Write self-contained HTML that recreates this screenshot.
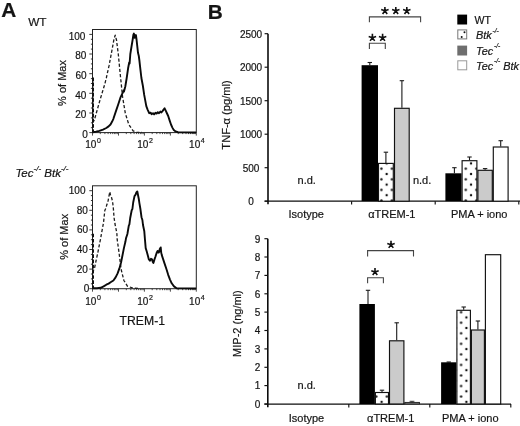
<!DOCTYPE html>
<html><head><meta charset="utf-8"><title>Figure</title>
<style>
html,body{margin:0;padding:0;background:#fff;}
body{width:520px;height:426px;overflow:hidden;font-family:'Liberation Sans', sans-serif;}
svg{display:block;font-family:"Liberation Sans",sans-serif;fill:#151515;filter:grayscale(1);}
svg text{font-family:"Liberation Sans",sans-serif;stroke:#151515;stroke-width:0.2px;}
</style></head><body>
<svg width="520" height="426" viewBox="0 0 520 426">
<rect x="0" y="0" width="520" height="426" fill="#fff"/>
<rect x="92.5" y="29.5" width="103.80000000000001" height="103.1" fill="none" stroke="#222" stroke-width="1"/>
<line x1="89.3" y1="132.6" x2="92.5" y2="132.6" stroke="#222" stroke-width="0.9"/>
<line x1="90.9" y1="127.7" x2="92.5" y2="127.7" stroke="#222" stroke-width="0.9"/>
<line x1="90.9" y1="122.8" x2="92.5" y2="122.8" stroke="#222" stroke-width="0.9"/>
<line x1="90.9" y1="117.9" x2="92.5" y2="117.9" stroke="#222" stroke-width="0.9"/>
<line x1="89.3" y1="113.0" x2="92.5" y2="113.0" stroke="#222" stroke-width="0.9"/>
<line x1="90.9" y1="108.0" x2="92.5" y2="108.0" stroke="#222" stroke-width="0.9"/>
<line x1="90.9" y1="103.1" x2="92.5" y2="103.1" stroke="#222" stroke-width="0.9"/>
<line x1="90.9" y1="98.2" x2="92.5" y2="98.2" stroke="#222" stroke-width="0.9"/>
<line x1="89.3" y1="93.3" x2="92.5" y2="93.3" stroke="#222" stroke-width="0.9"/>
<line x1="90.9" y1="88.4" x2="92.5" y2="88.4" stroke="#222" stroke-width="0.9"/>
<line x1="90.9" y1="83.5" x2="92.5" y2="83.5" stroke="#222" stroke-width="0.9"/>
<line x1="90.9" y1="78.6" x2="92.5" y2="78.6" stroke="#222" stroke-width="0.9"/>
<line x1="89.3" y1="73.7" x2="92.5" y2="73.7" stroke="#222" stroke-width="0.9"/>
<line x1="90.9" y1="68.8" x2="92.5" y2="68.8" stroke="#222" stroke-width="0.9"/>
<line x1="90.9" y1="63.9" x2="92.5" y2="63.9" stroke="#222" stroke-width="0.9"/>
<line x1="90.9" y1="59.0" x2="92.5" y2="59.0" stroke="#222" stroke-width="0.9"/>
<line x1="89.3" y1="54.0" x2="92.5" y2="54.0" stroke="#222" stroke-width="0.9"/>
<line x1="90.9" y1="49.1" x2="92.5" y2="49.1" stroke="#222" stroke-width="0.9"/>
<line x1="90.9" y1="44.2" x2="92.5" y2="44.2" stroke="#222" stroke-width="0.9"/>
<line x1="90.9" y1="39.3" x2="92.5" y2="39.3" stroke="#222" stroke-width="0.9"/>
<line x1="89.3" y1="34.4" x2="92.5" y2="34.4" stroke="#222" stroke-width="0.9"/>
<text x="87.9" y="138.0" font-size="10" text-anchor="end">0</text>
<text x="86.4" y="118.4" font-size="10" text-anchor="end">20</text>
<text x="86.4" y="98.7" font-size="10" text-anchor="end">40</text>
<text x="86.6" y="79.1" font-size="10" text-anchor="end">60</text>
<text x="86.4" y="59.4" font-size="10" text-anchor="end">80</text>
<text x="85.4" y="39.8" font-size="10" text-anchor="end">100</text>
<line x1="92.5" y1="132.6" x2="92.5" y2="135.6" stroke="#222" stroke-width="0.8"/>
<line x1="100.3" y1="132.6" x2="100.3" y2="134.1" stroke="#222" stroke-width="0.8"/>
<line x1="104.9" y1="132.6" x2="104.9" y2="134.1" stroke="#222" stroke-width="0.8"/>
<line x1="108.1" y1="132.6" x2="108.1" y2="134.1" stroke="#222" stroke-width="0.8"/>
<line x1="110.6" y1="132.6" x2="110.6" y2="134.1" stroke="#222" stroke-width="0.8"/>
<line x1="112.7" y1="132.6" x2="112.7" y2="134.1" stroke="#222" stroke-width="0.8"/>
<line x1="114.4" y1="132.6" x2="114.4" y2="134.1" stroke="#222" stroke-width="0.8"/>
<line x1="115.9" y1="132.6" x2="115.9" y2="134.1" stroke="#222" stroke-width="0.8"/>
<line x1="117.3" y1="132.6" x2="117.3" y2="134.1" stroke="#222" stroke-width="0.8"/>
<line x1="118.5" y1="132.6" x2="118.5" y2="135.6" stroke="#222" stroke-width="0.8"/>
<line x1="126.3" y1="132.6" x2="126.3" y2="134.1" stroke="#222" stroke-width="0.8"/>
<line x1="130.8" y1="132.6" x2="130.8" y2="134.1" stroke="#222" stroke-width="0.8"/>
<line x1="134.1" y1="132.6" x2="134.1" y2="134.1" stroke="#222" stroke-width="0.8"/>
<line x1="136.6" y1="132.6" x2="136.6" y2="134.1" stroke="#222" stroke-width="0.8"/>
<line x1="138.6" y1="132.6" x2="138.6" y2="134.1" stroke="#222" stroke-width="0.8"/>
<line x1="140.4" y1="132.6" x2="140.4" y2="134.1" stroke="#222" stroke-width="0.8"/>
<line x1="141.9" y1="132.6" x2="141.9" y2="134.1" stroke="#222" stroke-width="0.8"/>
<line x1="143.2" y1="132.6" x2="143.2" y2="134.1" stroke="#222" stroke-width="0.8"/>
<line x1="144.4" y1="132.6" x2="144.4" y2="135.6" stroke="#222" stroke-width="0.8"/>
<line x1="152.2" y1="132.6" x2="152.2" y2="134.1" stroke="#222" stroke-width="0.8"/>
<line x1="156.8" y1="132.6" x2="156.8" y2="134.1" stroke="#222" stroke-width="0.8"/>
<line x1="160.0" y1="132.6" x2="160.0" y2="134.1" stroke="#222" stroke-width="0.8"/>
<line x1="162.5" y1="132.6" x2="162.5" y2="134.1" stroke="#222" stroke-width="0.8"/>
<line x1="164.6" y1="132.6" x2="164.6" y2="134.1" stroke="#222" stroke-width="0.8"/>
<line x1="166.3" y1="132.6" x2="166.3" y2="134.1" stroke="#222" stroke-width="0.8"/>
<line x1="167.8" y1="132.6" x2="167.8" y2="134.1" stroke="#222" stroke-width="0.8"/>
<line x1="169.2" y1="132.6" x2="169.2" y2="134.1" stroke="#222" stroke-width="0.8"/>
<line x1="170.4" y1="132.6" x2="170.4" y2="135.6" stroke="#222" stroke-width="0.8"/>
<line x1="178.2" y1="132.6" x2="178.2" y2="134.1" stroke="#222" stroke-width="0.8"/>
<line x1="182.7" y1="132.6" x2="182.7" y2="134.1" stroke="#222" stroke-width="0.8"/>
<line x1="186.0" y1="132.6" x2="186.0" y2="134.1" stroke="#222" stroke-width="0.8"/>
<line x1="188.5" y1="132.6" x2="188.5" y2="134.1" stroke="#222" stroke-width="0.8"/>
<line x1="190.5" y1="132.6" x2="190.5" y2="134.1" stroke="#222" stroke-width="0.8"/>
<line x1="192.3" y1="132.6" x2="192.3" y2="134.1" stroke="#222" stroke-width="0.8"/>
<line x1="193.8" y1="132.6" x2="193.8" y2="134.1" stroke="#222" stroke-width="0.8"/>
<line x1="195.1" y1="132.6" x2="195.1" y2="134.1" stroke="#222" stroke-width="0.8"/>
<line x1="196.3" y1="132.6" x2="196.3" y2="135.6" stroke="#222" stroke-width="0.8"/>
<text x="85.3" y="148.2" font-size="10">10<tspan dx="0.6" dy="-4.8" font-size="7">0</tspan></text>
<text x="137.2" y="148.2" font-size="10">10<tspan dx="0.6" dy="-4.8" font-size="7">2</tspan></text>
<text x="189.1" y="148.2" font-size="10">10<tspan dx="0.6" dy="-4.8" font-size="7">4</tspan></text>
<text transform="translate(66.2,83.0) rotate(-90)" font-size="11" text-anchor="middle">% of Max</text>
<path d="M92.8,132.4 L92.8,80.0 L92.8,122.0 L94.3,120.3 L100.0,100.0 L104.9,83.7 L106.3,78.0 L109.1,65.4 L112.0,50.0 L114.0,39.0 L115.2,35.2 L116.5,40.0 L118.3,54.2 L120.4,76.0 L121.1,82.3 L122.5,96.3 L125.3,113.2 L128.8,124.5 L133.1,130.8 L136.6,132.4 L142.0,132.4" fill="none" stroke="#1c1c1c" stroke-width="1.3" stroke-dasharray="3.2,2.0" stroke-linejoin="round"/>
<path d="M92.8,132.2 L96.0,131.6 L99.3,130.8 L103.0,129.6 L106.3,128.0 L108.6,126.4 L110.5,124.5 L112.0,121.8 L113.4,118.8 L116.2,110.4 L118.2,104.5 L120.4,97.7 L122.8,92.6 L123.6,90.6 L124.0,91.6 L125.3,86.5 L126.7,78.0 L128.1,68.3 L129.2,62.5 L129.6,63.5 L130.3,54.2 L131.6,46.0 L132.6,40.0 L133.4,34.6 L133.9,33.6 L134.6,37.8 L135.2,35.6 L135.9,35.0 L136.6,40.0 L138.0,52.8 L138.8,56.0 L139.4,60.5 L140.1,66.8 L141.4,78.0 L142.9,86.0 L144.2,94.9 L146.3,106.2 L147.6,109.6 L149.2,113.2 L150.6,112.6 L151.6,114.2 L153.0,113.2 L154.1,114.4 L155.4,112.8 L156.6,113.6 L157.8,112.2 L159.0,113.2 L160.4,111.6 L161.4,112.4 L162.5,111.1 L163.6,109.6 L164.6,108.3 L165.6,110.4 L166.8,113.0 L168.2,116.0 L169.6,120.4 L171.0,124.5 L172.4,127.6 L173.8,130.1 L175.6,131.4 L178.0,132.2 L185.0,132.4 L196.0,132.5" fill="none" stroke="#0a0a0a" stroke-width="1.9" stroke-linejoin="round"/>
<line x1="93.0" y1="77.5" x2="93.0" y2="132.6" stroke="#111" stroke-width="2" stroke-dasharray="3.4,1.8"/>
<rect x="92.5" y="185.8" width="103.80000000000001" height="102.89999999999998" fill="none" stroke="#222" stroke-width="1"/>
<line x1="89.3" y1="288.7" x2="92.5" y2="288.7" stroke="#222" stroke-width="0.9"/>
<line x1="90.9" y1="283.8" x2="92.5" y2="283.8" stroke="#222" stroke-width="0.9"/>
<line x1="90.9" y1="278.9" x2="92.5" y2="278.9" stroke="#222" stroke-width="0.9"/>
<line x1="90.9" y1="274.0" x2="92.5" y2="274.0" stroke="#222" stroke-width="0.9"/>
<line x1="89.3" y1="269.1" x2="92.5" y2="269.1" stroke="#222" stroke-width="0.9"/>
<line x1="90.9" y1="264.2" x2="92.5" y2="264.2" stroke="#222" stroke-width="0.9"/>
<line x1="90.9" y1="259.3" x2="92.5" y2="259.3" stroke="#222" stroke-width="0.9"/>
<line x1="90.9" y1="254.4" x2="92.5" y2="254.4" stroke="#222" stroke-width="0.9"/>
<line x1="89.3" y1="249.5" x2="92.5" y2="249.5" stroke="#222" stroke-width="0.9"/>
<line x1="90.9" y1="244.6" x2="92.5" y2="244.6" stroke="#222" stroke-width="0.9"/>
<line x1="90.9" y1="239.7" x2="92.5" y2="239.7" stroke="#222" stroke-width="0.9"/>
<line x1="90.9" y1="234.8" x2="92.5" y2="234.8" stroke="#222" stroke-width="0.9"/>
<line x1="89.3" y1="229.9" x2="92.5" y2="229.9" stroke="#222" stroke-width="0.9"/>
<line x1="90.9" y1="225.0" x2="92.5" y2="225.0" stroke="#222" stroke-width="0.9"/>
<line x1="90.9" y1="220.1" x2="92.5" y2="220.1" stroke="#222" stroke-width="0.9"/>
<line x1="90.9" y1="215.2" x2="92.5" y2="215.2" stroke="#222" stroke-width="0.9"/>
<line x1="89.3" y1="210.3" x2="92.5" y2="210.3" stroke="#222" stroke-width="0.9"/>
<line x1="90.9" y1="205.4" x2="92.5" y2="205.4" stroke="#222" stroke-width="0.9"/>
<line x1="90.9" y1="200.5" x2="92.5" y2="200.5" stroke="#222" stroke-width="0.9"/>
<line x1="90.9" y1="195.6" x2="92.5" y2="195.6" stroke="#222" stroke-width="0.9"/>
<line x1="89.3" y1="190.7" x2="92.5" y2="190.7" stroke="#222" stroke-width="0.9"/>
<text x="89.3" y="292.2" font-size="10" text-anchor="end">0</text>
<text x="87.8" y="272.6" font-size="10" text-anchor="end">20</text>
<text x="87.8" y="253.0" font-size="10" text-anchor="end">40</text>
<text x="88.0" y="233.4" font-size="10" text-anchor="end">60</text>
<text x="87.8" y="213.8" font-size="10" text-anchor="end">80</text>
<text x="85.5" y="194.2" font-size="10" text-anchor="end">100</text>
<line x1="92.5" y1="288.7" x2="92.5" y2="291.7" stroke="#222" stroke-width="0.8"/>
<line x1="100.3" y1="288.7" x2="100.3" y2="290.2" stroke="#222" stroke-width="0.8"/>
<line x1="104.9" y1="288.7" x2="104.9" y2="290.2" stroke="#222" stroke-width="0.8"/>
<line x1="108.1" y1="288.7" x2="108.1" y2="290.2" stroke="#222" stroke-width="0.8"/>
<line x1="110.6" y1="288.7" x2="110.6" y2="290.2" stroke="#222" stroke-width="0.8"/>
<line x1="112.7" y1="288.7" x2="112.7" y2="290.2" stroke="#222" stroke-width="0.8"/>
<line x1="114.4" y1="288.7" x2="114.4" y2="290.2" stroke="#222" stroke-width="0.8"/>
<line x1="115.9" y1="288.7" x2="115.9" y2="290.2" stroke="#222" stroke-width="0.8"/>
<line x1="117.3" y1="288.7" x2="117.3" y2="290.2" stroke="#222" stroke-width="0.8"/>
<line x1="118.5" y1="288.7" x2="118.5" y2="291.7" stroke="#222" stroke-width="0.8"/>
<line x1="126.3" y1="288.7" x2="126.3" y2="290.2" stroke="#222" stroke-width="0.8"/>
<line x1="130.8" y1="288.7" x2="130.8" y2="290.2" stroke="#222" stroke-width="0.8"/>
<line x1="134.1" y1="288.7" x2="134.1" y2="290.2" stroke="#222" stroke-width="0.8"/>
<line x1="136.6" y1="288.7" x2="136.6" y2="290.2" stroke="#222" stroke-width="0.8"/>
<line x1="138.6" y1="288.7" x2="138.6" y2="290.2" stroke="#222" stroke-width="0.8"/>
<line x1="140.4" y1="288.7" x2="140.4" y2="290.2" stroke="#222" stroke-width="0.8"/>
<line x1="141.9" y1="288.7" x2="141.9" y2="290.2" stroke="#222" stroke-width="0.8"/>
<line x1="143.2" y1="288.7" x2="143.2" y2="290.2" stroke="#222" stroke-width="0.8"/>
<line x1="144.4" y1="288.7" x2="144.4" y2="291.7" stroke="#222" stroke-width="0.8"/>
<line x1="152.2" y1="288.7" x2="152.2" y2="290.2" stroke="#222" stroke-width="0.8"/>
<line x1="156.8" y1="288.7" x2="156.8" y2="290.2" stroke="#222" stroke-width="0.8"/>
<line x1="160.0" y1="288.7" x2="160.0" y2="290.2" stroke="#222" stroke-width="0.8"/>
<line x1="162.5" y1="288.7" x2="162.5" y2="290.2" stroke="#222" stroke-width="0.8"/>
<line x1="164.6" y1="288.7" x2="164.6" y2="290.2" stroke="#222" stroke-width="0.8"/>
<line x1="166.3" y1="288.7" x2="166.3" y2="290.2" stroke="#222" stroke-width="0.8"/>
<line x1="167.8" y1="288.7" x2="167.8" y2="290.2" stroke="#222" stroke-width="0.8"/>
<line x1="169.2" y1="288.7" x2="169.2" y2="290.2" stroke="#222" stroke-width="0.8"/>
<line x1="170.4" y1="288.7" x2="170.4" y2="291.7" stroke="#222" stroke-width="0.8"/>
<line x1="178.2" y1="288.7" x2="178.2" y2="290.2" stroke="#222" stroke-width="0.8"/>
<line x1="182.7" y1="288.7" x2="182.7" y2="290.2" stroke="#222" stroke-width="0.8"/>
<line x1="186.0" y1="288.7" x2="186.0" y2="290.2" stroke="#222" stroke-width="0.8"/>
<line x1="188.5" y1="288.7" x2="188.5" y2="290.2" stroke="#222" stroke-width="0.8"/>
<line x1="190.5" y1="288.7" x2="190.5" y2="290.2" stroke="#222" stroke-width="0.8"/>
<line x1="192.3" y1="288.7" x2="192.3" y2="290.2" stroke="#222" stroke-width="0.8"/>
<line x1="193.8" y1="288.7" x2="193.8" y2="290.2" stroke="#222" stroke-width="0.8"/>
<line x1="195.1" y1="288.7" x2="195.1" y2="290.2" stroke="#222" stroke-width="0.8"/>
<line x1="196.3" y1="288.7" x2="196.3" y2="291.7" stroke="#222" stroke-width="0.8"/>
<text x="85.3" y="304.8" font-size="10">10<tspan dx="0.6" dy="-4.8" font-size="7">0</tspan></text>
<text x="137.2" y="304.8" font-size="10">10<tspan dx="0.6" dy="-4.8" font-size="7">2</tspan></text>
<text x="189.1" y="304.8" font-size="10">10<tspan dx="0.6" dy="-4.8" font-size="7">4</tspan></text>
<text transform="translate(67.6,236.8) rotate(-90)" font-size="11" text-anchor="middle">% of Max</text>
<path d="M92.8,288.4 L92.8,240.0 L92.8,271.0 L94.3,269.2 L96.0,261.0 L97.9,252.3 L99.6,243.5 L100.7,238.3 L101.4,234.0 L103.5,222.8 L104.2,216.0 L104.9,210.2 L106.0,208.0 L106.8,204.6 L107.7,203.1 L108.6,198.0 L109.8,191.9 L110.6,195.5 L111.4,197.0 L112.6,201.7 L113.4,209.0 L114.0,217.2 L115.0,224.0 L116.2,229.9 L116.9,234.0 L117.2,239.7 L119.0,252.3 L121.1,269.2 L123.9,280.5 L127.4,286.1 L133.0,288.2 L140.0,288.4" fill="none" stroke="#1c1c1c" stroke-width="1.3" stroke-dasharray="3.2,2.0" stroke-linejoin="round"/>
<path d="M92.8,288.2 L97.0,288.2 L100.7,287.8 L103.6,286.4 L106.3,284.7 L108.6,283.6 L110.6,282.2 L113.4,280.5 L115.6,277.4 L117.6,273.4 L119.4,268.4 L121.1,262.2 L122.6,254.8 L123.9,248.1 L125.4,241.8 L126.0,238.3 L127.4,234.0 L128.8,225.7 L129.4,224.4 L130.2,218.0 L131.7,210.2 L132.4,209.0 L133.2,202.5 L134.5,196.1 L135.6,194.6 L136.4,192.4 L137.3,191.4 L138.0,195.0 L138.8,199.0 L139.4,203.1 L140.4,209.0 L141.5,217.2 L142.4,220.0 L143.0,225.0 L144.3,231.3 L145.0,240.0 L145.7,248.1 L146.6,251.0 L147.7,255.1 L148.8,259.2 L149.9,260.8 L151.0,258.8 L152.0,259.4 L152.8,262.0 L153.4,262.9 L154.4,259.6 L155.5,256.5 L156.6,253.0 L157.6,250.9 L158.4,252.6 L159.0,252.3 L159.8,249.0 L160.7,247.4 L161.2,252.6 L161.8,255.1 L163.2,259.4 L164.6,263.6 L166.4,269.0 L168.2,274.8 L170.0,279.6 L171.7,283.3 L174.0,286.4 L176.6,288.2 L185.0,288.4 L196.0,288.5" fill="none" stroke="#0a0a0a" stroke-width="1.9" stroke-linejoin="round"/>
<line x1="93.0" y1="233.8" x2="93.0" y2="288.7" stroke="#111" stroke-width="2" stroke-dasharray="3.4,1.8"/>
<text x="1.3" y="17.2" font-size="20.8" font-weight="bold">A</text>
<text x="28.2" y="25.5" font-size="11.8">WT</text>
<text x="15.4" y="176.6" font-size="11.5" font-style="italic">Tec<tspan dy="-5.8" font-size="8">-/-</tspan><tspan dy="5.8"> Btk</tspan><tspan dy="-5.8" font-size="8">-/-</tspan></text>
<text x="142.3" y="324.6" font-size="12.2" text-anchor="middle">TREM-1</text>
<text x="207.7" y="18.9" font-size="20.8" font-weight="bold">B</text>
<defs>
<pattern id="dots" x="376.1" y="163.4" width="10.55" height="10.6" patternUnits="userSpaceOnUse">
<rect width="10.55" height="10.6" fill="#fff"/>
<circle cx="5.3" cy="5.3" r="1.2" fill="#111"/>
<circle cx="10.55" cy="10.6" r="1.2" fill="#111"/><circle cx="0" cy="10.6" r="1.2" fill="#111"/>
<circle cx="0" cy="0" r="1.2" fill="#111"/><circle cx="10.55" cy="0" r="1.2" fill="#111"/>
</pattern>
<pattern id="dots2" x="371.0" y="391.3" width="10.6" height="10.55" patternUnits="userSpaceOnUse">
<rect width="10.6" height="10.55" fill="#fff"/>
<circle cx="5.3" cy="5.3" r="1.2" fill="#111"/>
<circle cx="10.6" cy="10.55" r="1.2" fill="#111"/><circle cx="0" cy="10.55" r="1.2" fill="#111"/>
<circle cx="0" cy="0" r="1.2" fill="#111"/><circle cx="10.6" cy="0" r="1.2" fill="#111"/>
</pattern>
</defs>
<line x1="268" y1="33.650000000000006" x2="268" y2="204.35" stroke="#0c0c0c" stroke-width="1.6"/>
<line x1="264.6" y1="201.15" x2="520" y2="201.15" stroke="#0c0c0c" stroke-width="1.25"/>
<line x1="264.6" y1="201.2" x2="268" y2="201.2" stroke="#111" stroke-width="1.15"/>
<text x="251.0" y="205.0" font-size="10" text-anchor="middle">0</text>
<line x1="264.6" y1="167.7" x2="268" y2="167.7" stroke="#111" stroke-width="1.15"/>
<text x="251.0" y="171.5" font-size="10" text-anchor="middle">500</text>
<line x1="264.6" y1="134.2" x2="268" y2="134.2" stroke="#111" stroke-width="1.15"/>
<text x="251.0" y="138.0" font-size="10" text-anchor="middle">1000</text>
<line x1="264.6" y1="100.7" x2="268" y2="100.7" stroke="#111" stroke-width="1.15"/>
<text x="251.0" y="104.5" font-size="10" text-anchor="middle">1500</text>
<line x1="264.6" y1="67.2" x2="268" y2="67.2" stroke="#111" stroke-width="1.15"/>
<text x="251.0" y="71.0" font-size="10" text-anchor="middle">2000</text>
<line x1="264.6" y1="33.7" x2="268" y2="33.7" stroke="#111" stroke-width="1.15"/>
<text x="251.0" y="37.5" font-size="10" text-anchor="middle">2500</text>
<line x1="351.6" y1="201.15" x2="351.6" y2="204.55" stroke="#111" stroke-width="1.15"/>
<line x1="435.2" y1="201.15" x2="435.2" y2="204.55" stroke="#111" stroke-width="1.15"/>
<line x1="518.8" y1="201.15" x2="518.8" y2="204.55" stroke="#111" stroke-width="1.15"/>
<text x="306.2" y="217.7" font-size="11" text-anchor="middle">Isotype</text>
<text x="391.8" y="217.7" font-size="11" text-anchor="middle">αTREM-1</text>
<text x="479.2" y="217.7" font-size="11" text-anchor="middle">PMA + iono</text>
<line x1="369.8" y1="62.5" x2="369.8" y2="65.2" stroke="#1a1a1a" stroke-width="1.1"/>
<line x1="367.6" y1="62.5" x2="372.0" y2="62.5" stroke="#1a1a1a" stroke-width="1.1"/>
<rect x="361.6" y="65.2" width="16.4" height="135.9" fill="#000"/>
<line x1="385.9" y1="152.2" x2="385.9" y2="162.9" stroke="#1a1a1a" stroke-width="1.1"/>
<line x1="383.7" y1="152.2" x2="388.1" y2="152.2" stroke="#1a1a1a" stroke-width="1.1"/>
<rect x="378.5" y="163.4" width="14.8" height="37.8" fill="url(#dots)" stroke="#111" stroke-width="1.15"/>
<line x1="401.9" y1="80.7" x2="401.9" y2="107.8" stroke="#1a1a1a" stroke-width="1.1"/>
<line x1="399.7" y1="80.7" x2="404.1" y2="80.7" stroke="#1a1a1a" stroke-width="1.1"/>
<rect x="394.5" y="108.3" width="14.7" height="92.9" fill="#cbcbcb" stroke="#111" stroke-width="1.15"/>
<line x1="454.4" y1="167.7" x2="454.4" y2="173.3" stroke="#1a1a1a" stroke-width="1.1"/>
<line x1="452.2" y1="167.7" x2="456.6" y2="167.7" stroke="#1a1a1a" stroke-width="1.1"/>
<rect x="445.4" y="173.3" width="16.2" height="27.8" fill="#000"/>
<line x1="469.5" y1="157.0" x2="469.5" y2="160.2" stroke="#1a1a1a" stroke-width="1.1"/>
<line x1="467.3" y1="157.0" x2="471.7" y2="157.0" stroke="#1a1a1a" stroke-width="1.1"/>
<rect x="462.1" y="160.7" width="14.8" height="40.5" fill="url(#dots)" stroke="#111" stroke-width="1.15"/>
<line x1="485.1" y1="168.6" x2="485.1" y2="169.8" stroke="#1a1a1a" stroke-width="1.1"/>
<line x1="482.9" y1="168.6" x2="487.3" y2="168.6" stroke="#1a1a1a" stroke-width="1.1"/>
<rect x="477.9" y="170.3" width="14.4" height="30.8" fill="#cbcbcb" stroke="#111" stroke-width="1.15"/>
<line x1="500.7" y1="140.7" x2="500.7" y2="146.5" stroke="#1a1a1a" stroke-width="1.1"/>
<line x1="498.5" y1="140.7" x2="502.9" y2="140.7" stroke="#1a1a1a" stroke-width="1.1"/>
<rect x="493.3" y="147.0" width="14.8" height="54.2" fill="#fff" stroke="#111" stroke-width="1.15"/>
<text x="306.7" y="183.8" font-size="11" text-anchor="middle">n.d.</text>
<text x="422.1" y="183.7" font-size="11" text-anchor="middle">n.d.</text>
<text transform="translate(229.6,115.0) rotate(-90)" font-size="11.1" text-anchor="middle">TNF-α (pg/ml)</text>
<path d="M369.4,22.3 L369.4,16.9 L420.6,16.9 L420.6,22.3" fill="none" stroke="#444" stroke-width="1.1"/>
<path d="M384.90,10.80 L384.90,6.90 M384.90,10.80 L388.61,9.59 M384.90,10.80 L387.19,13.96 M384.90,10.80 L382.61,13.96 M384.90,10.80 L381.19,9.59" fill="none" stroke="#111" stroke-width="1.6" stroke-linecap="butt"/>
<path d="M395.80,10.80 L395.80,6.90 M395.80,10.80 L399.51,9.59 M395.80,10.80 L398.09,13.96 M395.80,10.80 L393.51,13.96 M395.80,10.80 L392.09,9.59" fill="none" stroke="#111" stroke-width="1.6" stroke-linecap="butt"/>
<path d="M406.80,10.80 L406.80,6.90 M406.80,10.80 L410.51,9.59 M406.80,10.80 L409.09,13.96 M406.80,10.80 L404.51,13.96 M406.80,10.80 L403.09,9.59" fill="none" stroke="#111" stroke-width="1.6" stroke-linecap="butt"/>
<path d="M369.4,49.0 L369.4,43.3 L385.3,43.3 L385.3,49.0" fill="none" stroke="#444" stroke-width="1.1"/>
<path d="M372.40,37.70 L372.40,33.80 M372.40,37.70 L376.11,36.49 M372.40,37.70 L374.69,40.86 M372.40,37.70 L370.11,40.86 M372.40,37.70 L368.69,36.49" fill="none" stroke="#111" stroke-width="1.6" stroke-linecap="butt"/>
<path d="M382.60,37.70 L382.60,33.80 M382.60,37.70 L386.31,36.49 M382.60,37.70 L384.89,40.86 M382.60,37.70 L380.31,40.86 M382.60,37.70 L378.89,36.49" fill="none" stroke="#111" stroke-width="1.6" stroke-linecap="butt"/>
<rect x="457.3" y="14.6" width="9.8" height="9.9" fill="#000"/>
<rect x="457.8" y="29.9" width="8.9" height="9.0" fill="#fff" stroke="#777" stroke-width="1"/>
<circle cx="464.5" cy="32.3" r="1.0" fill="#111"/><circle cx="461.7" cy="36.9" r="1.0" fill="#111"/>
<rect x="457.3" y="45.6" width="9.8" height="9.9" fill="#6e6e6e"/>
<rect x="457.8" y="60.8" width="8.9" height="9.0" fill="#fff" stroke="#999" stroke-width="1"/>
<text x="474.4" y="24.1" font-size="10.6">WT</text>
<text x="476" y="39.3" font-size="10.9" font-style="italic">Btk<tspan dx="0.8" dy="-6.3" font-size="6.6">-/-</tspan></text>
<text x="476" y="54.5" font-size="10.9" font-style="italic">Tec<tspan dx="0.8" dy="-6.3" font-size="6.6">-/-</tspan></text>
<text x="476" y="69.7" font-size="10.9" font-style="italic">Tec<tspan dx="0.8" dy="-6.3" font-size="6.6">-/-</tspan><tspan dy="6.3"> Btk</tspan><tspan dx="0.8" dy="-6.3" font-size="6.6">-/-</tspan></text>
<line x1="267.8" y1="238.67" x2="267.8" y2="407.2" stroke="#0c0c0c" stroke-width="1.6"/>
<line x1="264.40000000000003" y1="404.0" x2="511" y2="404.0" stroke="#0c0c0c" stroke-width="1.25"/>
<line x1="264.40000000000003" y1="404.0" x2="267.8" y2="404.0" stroke="#111" stroke-width="1.15"/>
<text x="260.3" y="407.8" font-size="10" text-anchor="end">0</text>
<line x1="264.40000000000003" y1="385.6" x2="267.8" y2="385.6" stroke="#111" stroke-width="1.15"/>
<text x="260.3" y="389.4" font-size="10" text-anchor="end">1</text>
<line x1="264.40000000000003" y1="367.3" x2="267.8" y2="367.3" stroke="#111" stroke-width="1.15"/>
<text x="260.3" y="371.1" font-size="10" text-anchor="end">2</text>
<line x1="264.40000000000003" y1="348.9" x2="267.8" y2="348.9" stroke="#111" stroke-width="1.15"/>
<text x="260.3" y="352.7" font-size="10" text-anchor="end">3</text>
<line x1="264.40000000000003" y1="330.5" x2="267.8" y2="330.5" stroke="#111" stroke-width="1.15"/>
<text x="260.3" y="334.3" font-size="10" text-anchor="end">4</text>
<line x1="264.40000000000003" y1="312.1" x2="267.8" y2="312.1" stroke="#111" stroke-width="1.15"/>
<text x="260.3" y="315.9" font-size="10" text-anchor="end">5</text>
<line x1="264.40000000000003" y1="293.8" x2="267.8" y2="293.8" stroke="#111" stroke-width="1.15"/>
<text x="260.3" y="297.6" font-size="10" text-anchor="end">6</text>
<line x1="264.40000000000003" y1="275.4" x2="267.8" y2="275.4" stroke="#111" stroke-width="1.15"/>
<text x="260.3" y="279.2" font-size="10" text-anchor="end">7</text>
<line x1="264.40000000000003" y1="257.0" x2="267.8" y2="257.0" stroke="#111" stroke-width="1.15"/>
<text x="260.3" y="260.8" font-size="10" text-anchor="end">8</text>
<line x1="264.40000000000003" y1="238.7" x2="267.8" y2="238.7" stroke="#111" stroke-width="1.15"/>
<text x="260.3" y="242.5" font-size="10" text-anchor="end">9</text>
<line x1="348.8" y1="404.0" x2="348.8" y2="407.4" stroke="#111" stroke-width="1.15"/>
<line x1="429.8" y1="404.0" x2="429.8" y2="407.4" stroke="#111" stroke-width="1.15"/>
<line x1="510.8" y1="404.0" x2="510.8" y2="407.4" stroke="#111" stroke-width="1.15"/>
<text x="306.5" y="421.6" font-size="11" text-anchor="middle">Isotype</text>
<text x="390.7" y="421.6" font-size="11" text-anchor="middle">αTREM-1</text>
<text x="470.3" y="421.6" font-size="11" text-anchor="middle">PMA + iono</text>
<line x1="368.0" y1="290.3" x2="368.0" y2="304.0" stroke="#1a1a1a" stroke-width="1.1"/>
<line x1="365.8" y1="290.3" x2="370.2" y2="290.3" stroke="#1a1a1a" stroke-width="1.1"/>
<rect x="359.4" y="304.0" width="15.5" height="100.0" fill="#000"/>
<line x1="382.0" y1="390.2" x2="382.0" y2="392.0" stroke="#1a1a1a" stroke-width="1.1"/>
<line x1="379.8" y1="390.2" x2="384.2" y2="390.2" stroke="#1a1a1a" stroke-width="1.1"/>
<rect x="375.4" y="392.5" width="13.1" height="11.5" fill="url(#dots2)" stroke="#111" stroke-width="1.15"/>
<line x1="396.7" y1="322.8" x2="396.7" y2="340.3" stroke="#1a1a1a" stroke-width="1.1"/>
<line x1="394.5" y1="322.8" x2="398.9" y2="322.8" stroke="#1a1a1a" stroke-width="1.1"/>
<rect x="389.5" y="340.8" width="14.4" height="63.2" fill="#cbcbcb" stroke="#111" stroke-width="1.15"/>
<line x1="412" y1="401.3" x2="412" y2="402.8" stroke="#222" stroke-width="0.9"/><line x1="409.6" y1="401.3" x2="414.4" y2="401.3" stroke="#222" stroke-width="0.9"/>
<rect x="404.8" y="402.4" width="14.6" height="1.4" fill="#fff" stroke="#111" stroke-width="0.9"/>
<line x1="448.8" y1="362.0" x2="448.8" y2="362.3" stroke="#1a1a1a" stroke-width="1.1"/>
<line x1="446.6" y1="362.0" x2="450.9" y2="362.0" stroke="#1a1a1a" stroke-width="1.1"/>
<rect x="441.1" y="362.3" width="15.3" height="41.7" fill="#000"/>
<line x1="463.7" y1="307.0" x2="463.7" y2="309.8" stroke="#1a1a1a" stroke-width="1.1"/>
<line x1="461.5" y1="307.0" x2="465.9" y2="307.0" stroke="#1a1a1a" stroke-width="1.1"/>
<rect x="456.9" y="310.3" width="13.5" height="93.7" fill="url(#dots2)" stroke="#111" stroke-width="1.15"/>
<line x1="477.9" y1="321.0" x2="477.9" y2="329.5" stroke="#1a1a1a" stroke-width="1.1"/>
<line x1="475.7" y1="321.0" x2="480.1" y2="321.0" stroke="#1a1a1a" stroke-width="1.1"/>
<rect x="471.4" y="330.0" width="13.0" height="74.0" fill="#cbcbcb" stroke="#111" stroke-width="1.15"/>
<rect x="485.4" y="254.7" width="15.3" height="149.3" fill="#fff" stroke="#111" stroke-width="1.15"/>
<text x="306.7" y="389.0" font-size="11" text-anchor="middle">n.d.</text>
<text transform="translate(241.3,323.6) rotate(-90)" font-size="11" text-anchor="middle">MIP-2 (ng/ml)</text>
<path d="M367.6,256.4 L367.6,250.6 L413.5,250.6 L413.5,256.4" fill="none" stroke="#444" stroke-width="1.1"/>
<path d="M391.00,244.70 L391.00,240.80 M391.00,244.70 L394.71,243.49 M391.00,244.70 L393.29,247.86 M391.00,244.70 L388.71,247.86 M391.00,244.70 L387.29,243.49" fill="none" stroke="#111" stroke-width="1.6" stroke-linecap="butt"/>
<path d="M367.6,283.2 L367.6,277.7 L383.4,277.7 L383.4,283.2" fill="none" stroke="#444" stroke-width="1.1"/>
<path d="M375.00,271.90 L375.00,268.00 M375.00,271.90 L378.71,270.69 M375.00,271.90 L377.29,275.06 M375.00,271.90 L372.71,275.06 M375.00,271.90 L371.29,270.69" fill="none" stroke="#111" stroke-width="1.6" stroke-linecap="butt"/>
</svg>
</body></html>
